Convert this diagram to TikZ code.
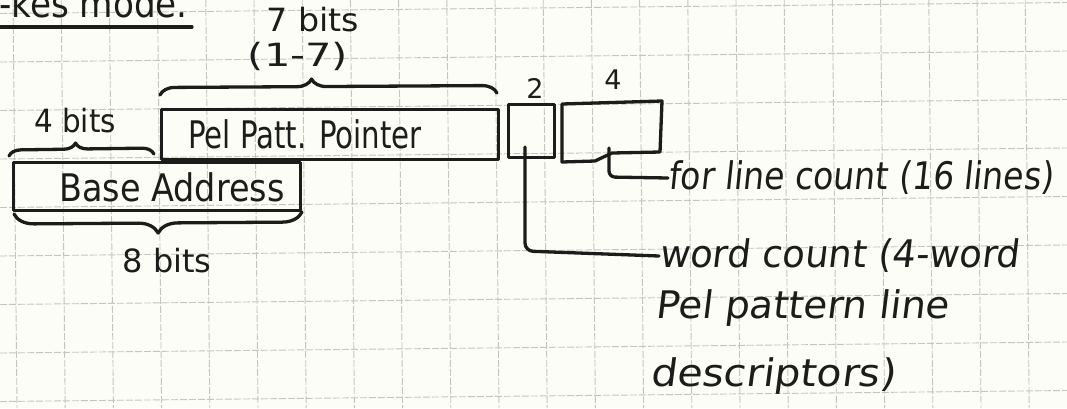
\documentclass[tikz,border=0pt]{standalone}
\usepackage{fontspec}
\setmainfont{DejaVu Sans}
\newfontfamily\handsl{DejaVu Sans}[FakeSlant=0.12]
\usetikzlibrary{decorations.pathreplacing}
\definecolor{inkc}{HTML}{1C1C1A}
\definecolor{paper}{HTML}{FDFDF8}
\definecolor{gridc}{HTML}{C4C4C0}
\newcommand{\sx}[2]{\scalebox{#1}[1]{#2}}
\begin{document}
\begin{tikzpicture}[x=1pt,y=-1pt,
  ink/.style={draw=inkc, line width=3.3pt, line join=round, line cap=round},
  gridline/.style={draw=gridc, line width=0.9pt, dash pattern=on 7pt off 2pt},
  box/.style={ink, rectangle, inner sep=0pt},
  lab/.style={inner sep=0pt, text=inkc, font=\fontsize{38}{44}\selectfont},
  small/.style={inner sep=0pt, text=inkc, font=\fontsize{32}{38}\selectfont},
  tiny/.style={inner sep=0pt, text=inkc, font=\fontsize{27}{32}\selectfont},
  slab/.style={inner sep=0pt, text=inkc, font=\fontsize{38}{44}\handsl},
  bracedec/.style={ink, decorate}]
\useasboundingbox (0,0) rectangle (1067,408);
\clip (0,0) rectangle (1067,408);
\fill[paper] (0,0) rectangle (1067,408);
% grid
\foreach \k in {0,...,22} { \draw[gridline] ({13+48.2*\k},0) -- ({17+48.2*\k},408); }
\foreach \k in {0,...,8} { \draw[gridline] (0,{13.5+48.5*\k}) -- (1067,{2.5+48.5*\k}); }
% title fragment (cut off by the page edge, as in the reference)
\node[lab, anchor=base west] (title) at (-1,17) {\sx{0.9}{-kes mode.}};
\draw[ink] (0,27) -- (192,27);
% boxes
\node[box, minimum width=337pt, minimum height=50pt, anchor=north west] (pel) at (160,108) {};
\node[lab] (pelt) at (305,134) {\sx{0.77}{Pel Patt. Pointer}};
\node[box, minimum width=287pt, minimum height=48pt, anchor=north west] (base) at (12,161) {};
\node[lab] (baset) at (172,187) {\sx{0.88}{Base Address}};
\node[box, minimum width=46pt, minimum height=53pt, anchor=north west] (b2) at (507,103) {};
\node[inner sep=0pt, minimum width=100pt, minimum height=58pt, anchor=north west] (b4) at (562,103) {};
\draw[ink] (562,104) -- (662,101) -- (660,152) -- (612,153) -- (595,161) -- (562,162) -- cycle;
% size labels
\node[tiny] (n2) at (535,88) {2};
\node[tiny] (n4) at (613,80) {4};
\node[small] (b7) at (313,20) {\sx{1.04}{7 bits}};
\node[small] (r7) at (298,56) {\sx{1.3}{(1-7)}};
\node[small] (b4l) at (75,121) {\sx{0.92}{4 bits}};
\node[small] (b8) at (167,261) {\sx{1.0}{8 bits}};
% braces
\draw[bracedec, decoration={brace, amplitude=15pt, aspect=0.45}] (160,95) -- (497,93);
\draw[bracedec, decoration={brace, amplitude=12pt, aspect=0.46}] (9,156) -- (154,154);
\draw[bracedec, decoration={brace, mirror, amplitude=20pt, aspect=0.5}] (14,214) -- (302,212);
% annotations
\node[slab, anchor=west] (fl) at (668,178) {\sx{0.87}{for line count (16 lines)}};
\node[slab, anchor=west] (wc) at (659,256) {\sx{0.97}{word count (4-word}};
\node[slab, anchor=west] (pp) at (655,308) {\sx{1.02}{Pel pattern line}};
\node[slab, anchor=west] (ds) at (650,376) {\sx{1.08}{descriptors)}};
% connectors
\coordinate (c4) at (609,148);
\coordinate (c2) at (525,147);
\draw[ink, rounded corners=6pt] (c4) -- (609,177) -- (fl.west);
\draw[ink, rounded corners=8pt] (c2) -- (525,251) -- (wc.west);
\end{tikzpicture}
\end{document}
